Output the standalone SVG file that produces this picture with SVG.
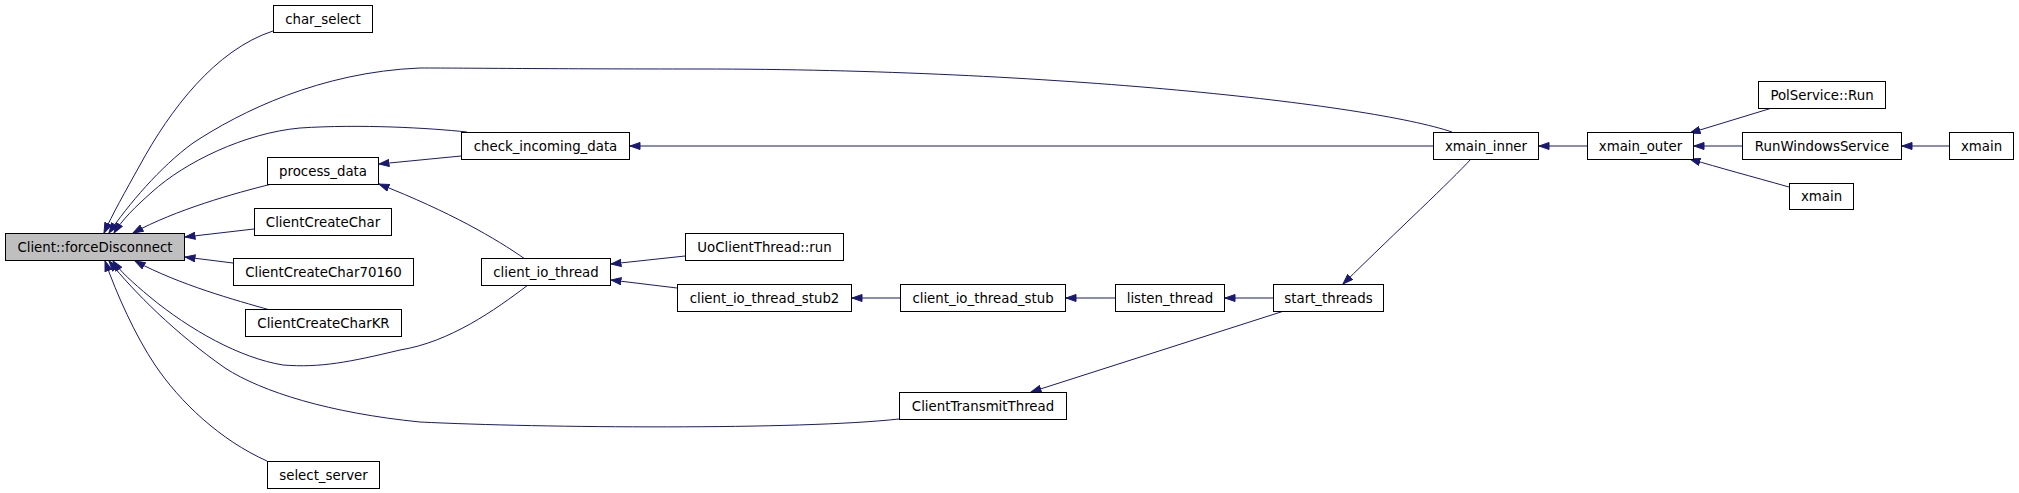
<svg xmlns="http://www.w3.org/2000/svg" width="2019" height="493" viewBox="0 0 2019 493">
<style>
.node rect{fill:#ffffff;stroke:#000000;stroke-width:1}
.node.main rect{fill:#bfbfbf}
.node text{font-family:"DejaVu Sans","Liberation Sans",sans-serif;font-size:13.33px;fill:#000000;text-anchor:middle}
.edges path{fill:none;stroke:#191970;stroke-width:1;marker-end:url(#arr)}
</style>
<defs>
<marker id="arr" viewBox="0 0 11 8" refX="10.5" refY="4" markerWidth="11" markerHeight="8" orient="auto" markerUnits="userSpaceOnUse">
<path d="M0.5,0.5 L10.5,4 L0.5,7.5 z" fill="#191970" stroke="#191970" stroke-width="1"/>
</marker>
</defs>
<rect x="0" y="0" width="2019" height="493" fill="#ffffff"/>
<g class="edges" id="edges">
<path d="M273,31 C215,50 170,110 140,165 C125,192 112,215 104,233"/>
<path d="M1452,132 C1370,104 1050,69 700,69 C550,69 470,68 420,68 C320,72 240,112 193,143 C160,167 128,205 109,233"/>
<path d="M467,132 C430,128 360,124 300,128 C245,133 185,162 152,192 C135,207 122,220 114,233"/>
<path d="M272,184 C235,193 175,210 133,233"/>
<path d="M254,229 L185,237"/>
<path d="M233,263 L185,257"/>
<path d="M270,310 C235,300 180,285 135,261"/>
<path d="M528,285 C495,310 450,342 400,350 C350,362 320,368 283,365 C240,358 190,330 150,297 C132,282 120,271 113,261"/>
<path d="M899,419 C800,430 540,428 420,422 C330,413 262,392 225,368 C175,333 135,293 109,261"/>
<path d="M267,461 C220,440 180,402 155,365 C135,335 117,295 105,261"/>
<path d="M461,156 L379,164"/>
<path d="M525,259 C495,238 450,212 379,184"/>
<path d="M1433,146 L630,146"/>
<path d="M685,256 L611,264"/>
<path d="M677,288 L611,280"/>
<path d="M900,298 L852,298"/>
<path d="M1115,298 L1066,298"/>
<path d="M1273,298 L1225,298"/>
<path d="M1471,159 C1450,182 1400,228 1343,284"/>
<path d="M1284,311 L1031,392"/>
<path d="M1587,146 L1539,146"/>
<path d="M1772,108 L1690,133"/>
<path d="M1742,146 L1694,146"/>
<path d="M1789,187 C1750,176 1720,168 1690,159"/>
<path d="M1949,146 L1902,146"/>
</g>
<g class="node main" id="n_forceDisconnect"><rect x="5.5" y="233.5" width="179" height="27"/><text x="95" y="251.5">Client::forceDisconnect</text></g>
<g class="node" id="n_char_select"><rect x="273.5" y="5.5" width="99" height="27"/><text x="323" y="23.5">char_select</text></g>
<g class="node" id="n_check_incoming_data"><rect x="461.5" y="132.5" width="168" height="27"/><text x="545.5" y="150.5">check_incoming_data</text></g>
<g class="node" id="n_process_data"><rect x="267.5" y="157.5" width="111" height="27"/><text x="323" y="175.5">process_data</text></g>
<g class="node" id="n_ClientCreateChar"><rect x="254.5" y="208.5" width="137" height="27"/><text x="323" y="226.5">ClientCreateChar</text></g>
<g class="node" id="n_ClientCreateChar70160"><rect x="233.5" y="258.5" width="180" height="27"/><text x="323.5" y="276.5">ClientCreateChar70160</text></g>
<g class="node" id="n_ClientCreateCharKR"><rect x="245.5" y="309.5" width="156" height="27"/><text x="323.5" y="327.5">ClientCreateCharKR</text></g>
<g class="node" id="n_select_server"><rect x="267.5" y="461.5" width="112" height="27"/><text x="323.5" y="479.5">select_server</text></g>
<g class="node" id="n_client_io_thread"><rect x="481.5" y="258.5" width="129" height="27"/><text x="546" y="276.5">client_io_thread</text></g>
<g class="node" id="n_UoClientThread_run"><rect x="685.5" y="233.5" width="158" height="27"/><text x="764.5" y="251.5">UoClientThread::run</text></g>
<g class="node" id="n_client_io_thread_stub2"><rect x="677.5" y="284.5" width="174" height="27"/><text x="764.5" y="302.5">client_io_thread_stub2</text></g>
<g class="node" id="n_client_io_thread_stub"><rect x="900.5" y="284.5" width="165" height="27"/><text x="983" y="302.5">client_io_thread_stub</text></g>
<g class="node" id="n_listen_thread"><rect x="1115.5" y="284.5" width="109" height="27"/><text x="1170" y="302.5">listen_thread</text></g>
<g class="node" id="n_start_threads"><rect x="1273.5" y="284.5" width="110" height="27"/><text x="1328.5" y="302.5">start_threads</text></g>
<g class="node" id="n_ClientTransmitThread"><rect x="899.5" y="392.5" width="167" height="27"/><text x="983" y="410.5">ClientTransmitThread</text></g>
<g class="node" id="n_xmain_inner"><rect x="1433.5" y="132.5" width="105" height="27"/><text x="1486" y="150.5">xmain_inner</text></g>
<g class="node" id="n_xmain_outer"><rect x="1587.5" y="132.5" width="106" height="27"/><text x="1640.5" y="150.5">xmain_outer</text></g>
<g class="node" id="n_PolService_Run"><rect x="1758.5" y="81.5" width="127" height="27"/><text x="1822" y="99.5">PolService::Run</text></g>
<g class="node" id="n_RunWindowsService"><rect x="1742.5" y="132.5" width="159" height="27"/><text x="1822" y="150.5">RunWindowsService</text></g>
<g class="node" id="n_xmain_right"><rect x="1949.5" y="132.5" width="64" height="27"/><text x="1981.5" y="150.5">xmain</text></g>
<g class="node" id="n_xmain_lower"><rect x="1789.5" y="183.5" width="64" height="26"/><text x="1821.5" y="201">xmain</text></g>
</svg>
